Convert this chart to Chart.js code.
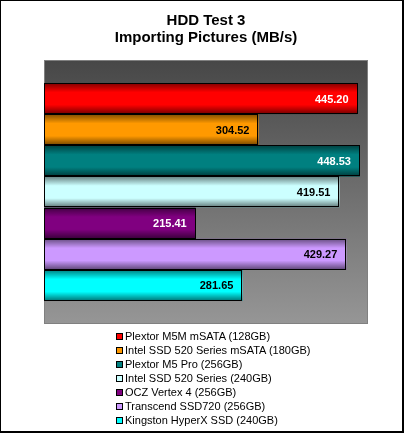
<!DOCTYPE html>
<html>
<head>
<meta charset="utf-8">
<script src="https://cdn.jsdelivr.net/npm/chart.js@4"></script>
<style>
  html, body { margin: 0; padding: 0; background: #fff; }
  #wrap { position: relative; width: 404px; height: 433px; }
  #legend {
    position: absolute; left: 116px; top: 329px;
    font: 11px Arial, "Liberation Sans", sans-serif; color: #000;
  }
  #legend div { height: 14px; line-height: 14px; white-space: nowrap; }
  #legend span {
    display: inline-block; width: 5px; height: 5px; border: 1px solid #000;
    margin-right: 2px; vertical-align: 0px;
  }
</style>
</head>
<body>
<div id="wrap">
  <canvas id="chart" width="404" height="433"></canvas>
  <div id="legend"></div>
</div>
<script>
const categories = ['HDD Test 3'];
const drives = [
  'Plextor M5M  mSATA (128GB)',
  'Intel SSD 520 Series mSATA (180GB)',
  'Plextor M5 Pro (256GB)',
  'Intel SSD 520 Series (240GB)',
  'OCZ Vertex 4 (256GB)',
  'Transcend SSD720 (256GB)',
  'Kingston HyperX SSD (240GB)'
];
const speeds = [445.20, 304.52, 448.53, 419.51, 215.41, 429.27, 281.65];
const colors = ['#ff0000', '#ff9900', '#008080', '#ccffff', '#800080', '#cc99ff', '#00ffff'];
const labelColors = ['#fff', '#000', '#fff', '#000', '#fff', '#000', '#000'];

// grey gradient behind the bars + plot frame + outer frame
const backdrop = {
  id: 'backdrop',
  beforeDatasetsDraw(chart) {
    const { ctx, chartArea: a } = chart;
    const g = ctx.createLinearGradient(0, a.top, 0, a.bottom);
    g.addColorStop(0, '#474747');
    g.addColorStop(1, '#969696');
    ctx.save();
    ctx.fillStyle = g;
    ctx.fillRect(a.left, a.top, a.right - a.left, a.bottom - a.top);
    ctx.strokeStyle = '#808080';
    ctx.lineWidth = 1;
    ctx.strokeRect(a.left + 0.5, a.top + 0.5, a.right - a.left - 1, a.bottom - a.top - 1);
    ctx.restore();
  },
  afterDraw(chart) {
    const { ctx, width, height } = chart;
    ctx.save();
    ctx.strokeStyle = '#000';
    ctx.lineWidth = 1;
    ctx.strokeRect(0.5, 0.5, width - 1, height - 1);
    ctx.fillStyle = '#000';
    ctx.fillRect(width - 2, 0, 2, height);
    ctx.fillRect(0, height - 2, width, 2);
    ctx.restore();
  }
};

// cylinder shading on each bar, then the value inside its end
const barShade = {
  id: 'barShade',
  afterDatasetsDraw(chart) {
    const ctx = chart.ctx;
    chart.data.datasets.forEach((ds, i) => {
      const el = chart.getDatasetMeta(i).data[0];
      const { x, y, base, height } = el.getProps(['x', 'y', 'base', 'height'], true);
      const top = y - height / 2, bottom = y + height / 2;
      const g = ctx.createLinearGradient(0, top, 0, bottom);
      g.addColorStop(0, 'rgba(0,0,0,0.5)');
      g.addColorStop(0.3, 'rgba(0,0,0,0)');
      g.addColorStop(0.7, 'rgba(0,0,0,0)');
      g.addColorStop(1, 'rgba(0,0,0,0.55)');
      ctx.save();
      ctx.fillStyle = g;
      ctx.fillRect(base, top, x - base, height);
      ctx.strokeStyle = '#000';
      ctx.lineWidth = 1;
      ctx.strokeRect(Math.round(base) + 0.5, Math.round(top) + 0.5, Math.round(x - base) - 1, Math.round(height) - 1);
      ctx.font = 'bold 11px Arial, "Liberation Sans", sans-serif';
      ctx.fillStyle = labelColors[i];
      ctx.textAlign = 'right';
      ctx.textBaseline = 'middle';
      ctx.fillText(speeds[i].toFixed(2), x - 9, y + 1);
      ctx.restore();
    });
  }
};

new Chart(document.getElementById('chart'), {
  type: 'bar',
  data: {
    labels: categories,
    datasets: drives.map((name, i) => ({
      label: name,
      data: [speeds[i]],
      backgroundColor: colors[i],
      borderColor: '#000',
      borderWidth: 0,
      barPercentage: 1,
      categoryPercentage: 0.826
    }))
  },
  options: {
    indexAxis: 'y',
    responsive: false,
    animation: false,
    layout: { padding: { left: 44, right: 36, top: 12, bottom: 109 } },
    scales: {
      x: { display: false, min: 0, max: 460 },
      y: { display: false }
    },
    plugins: {
      legend: { display: false },
      tooltip: { enabled: false },
      title: {
        display: true,
        text: ['HDD Test 3', 'Importing Pictures (MB/s)'],
        color: '#000',
        font: { family: 'Arial, "Liberation Sans", sans-serif', size: 15, weight: 'bold', lineHeight: 1.15 },
        padding: { top: 0, bottom: 13.5 }
      }
    }
  },
  plugins: [backdrop, barShade]
});

const legend = document.getElementById('legend');
drives.forEach((name, i) => {
  const row = document.createElement('div');
  const box = document.createElement('span');
  box.style.background = colors[i];
  row.appendChild(box);
  row.appendChild(document.createTextNode(name));
  legend.appendChild(row);
});
</script>
</body>
</html>
